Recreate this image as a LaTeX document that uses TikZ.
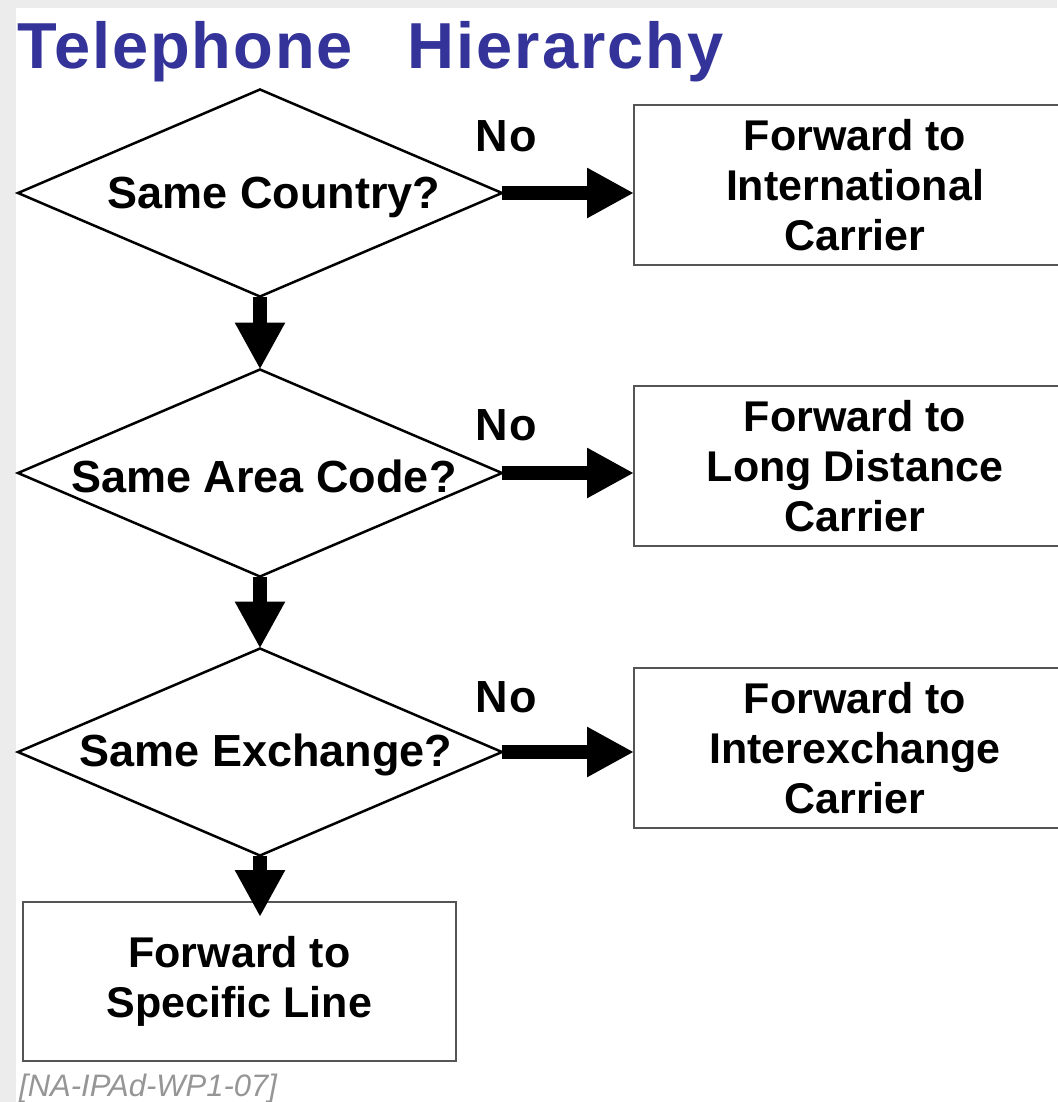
\documentclass[tikz,border=0pt]{standalone}
\usepackage{fontspec}
\setmainfont{Liberation Sans}
\usetikzlibrary{shapes.geometric,arrows.meta}
\definecolor{titleblue}{RGB}{51,51,153}
\definecolor{pagegray}{RGB}{236,236,236}
\definecolor{boxline}{RGB}{85,85,85}
\definecolor{refgray}{RGB}{150,150,150}

\begin{document}
\begin{tikzpicture}[x=1pt,y=-1pt,
  decision/.style={diamond, draw=black, line width=2.5pt,
    minimum width=484pt, minimum height=207pt, inner sep=0pt, outer sep=0pt},
  question/.style={inner sep=0pt, font=\fontsize{45}{50}\selectfont\bfseries},
  action/.style={rectangle, draw=boxline, line width=2pt,
    minimum width=442pt, minimum height=160pt, inner sep=0pt, outer sep=0pt,
    align=center, font=\fontsize{43}{50}\selectfont\bfseries},
  flow/.style={line width=14pt,
    -{Triangle[length=47pt 0 0, width=47pt 0 0]}},
  nolabel/.style={inner sep=0pt, font=\fontsize{45}{50}\selectfont\bfseries\addfontfeature{LetterSpace=4}}]

% page background with a light frame on the left and top
\useasboundingbox (0,0) rectangle (1057,1102);
\fill[pagegray] (0,0) rectangle (1057,1102);
\fill[white] (16,8) rectangle (1057,1102);

% heading
\node[anchor=base west, inner sep=0pt, text=titleblue,
      font=\fontsize{65}{70}\selectfont\bfseries\addfontfeature{LetterSpace=3}] (title) at (17,69)
  {Telephone\hspace{55pt}Hierarchy};

% decisions
\node[decision] (country)  at (260,193) {};
\node[decision] (area)     at (260,473) {};
\node[decision] (exchange) at (260,752) {};
\node[question] (countryq)  at (274,197) {Same Country?};
\node[question] (areaq)     at (264,476) {Same Area Code?};
\node[question] (exchangeq) at (266,755) {Same Exchange?};

% outcomes
\node[action] (intl)  at (855,185) {Forward to\\International\\Carrier};
\node[action] (long)  at (855,466) {Forward to\\Long Distance\\Carrier};
\node[action] (inter) at (855,748) {Forward to\\Interexchange\\Carrier};
\node[action, minimum width=433pt, minimum height=159pt] (line) at (239.5,981.5)
  {Forward to\\Specific Line};

% "No" branches
\draw[flow] (country.east)  -- (country.east -| intl.west);
\draw[flow] (area.east)     -- (area.east -| long.west);
\draw[flow] (exchange.east) -- (exchange.east -| inter.west);
\node[nolabel] (no1) at (506,136) {No};
\node[nolabel] (no2) at (506,425) {No};
\node[nolabel] (no3) at (506,697) {No};

% "Yes" path downwards
\draw[flow] (country.south)  -- (area.north);
\draw[flow] (area.south)     -- (exchange.north);
\draw[flow] (exchange.south) -- ([yshift=-15pt]exchange.south |- line.north);

% document reference
\node[anchor=base west, inner sep=0pt, text=refgray,
      font=\fontsize{31}{31}\selectfont\itshape] (ref) at (19,1096)
  {[NA-IPAd-WP1-07]};
\end{tikzpicture}
\end{document}
